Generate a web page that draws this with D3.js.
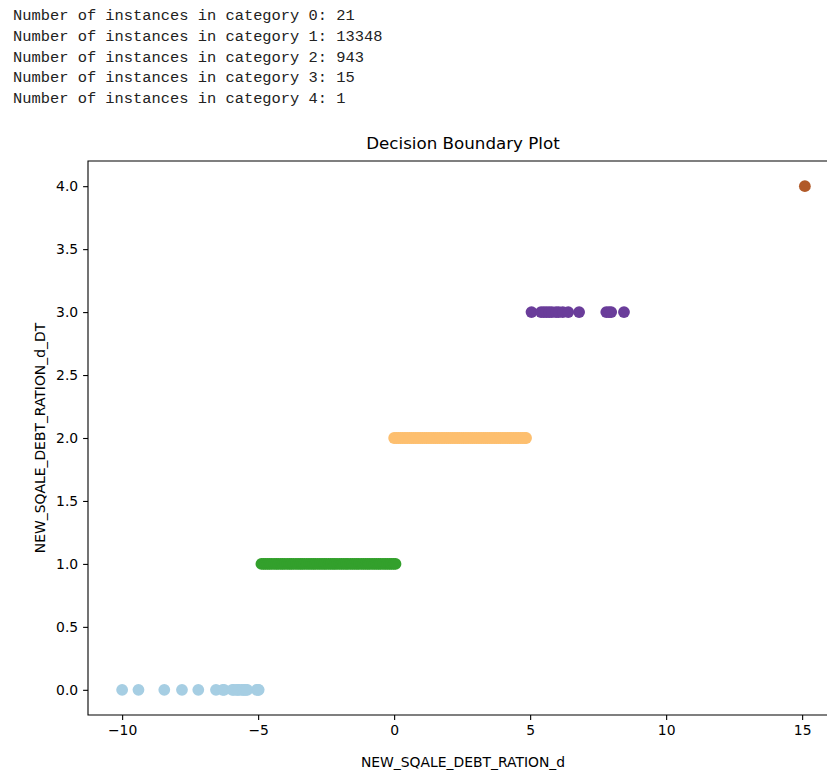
<!DOCTYPE html>
<html>
<head>
<meta charset="utf-8">
<script src="https://cdn.jsdelivr.net/npm/d3@7"></script>
<style>
  body { margin: 0; background: #fff; }
  .log { font-family: "Liberation Mono", "DejaVu Sans Mono", monospace; font-size: 15.4px; fill: #222; }
  .axis text { font-family: "DejaVu Sans", sans-serif; font-size: 13.9px; fill: #000; }
  .axis path, .axis line { stroke: #000; stroke-width: 1.1; }
</style>
</head>
<body>
<div id="chart"></div>
<script>
// counts printed above the chart
const counts = [21, 13348, 943, 15, 1];

// x positions for each category (y = category index)
const cat0 = [-10.0, -9.4, -8.45, -7.8, -7.2, -6.55, -6.3, -6.25, -5.95, -5.9, -5.8,
  -5.75, -5.7, -5.6, -5.55, -5.5, -5.45, -5.4, -5.05, -5.0, -4.98];
const cat1 = [-4.88, -4.8, -4.73, -4.65, -4.58, -4.5, -4.41, -4.33, -4.26, -4.17, -4.1,
  -4.02, -3.93, -3.85, -3.78, -3.7, -3.61, -3.53, -3.45, -3.38, -3.3, -3.21, -3.13,
  -3.05, -2.97, -2.9, -2.81, -2.73, -2.65, -2.57, -2.5, -2.41, -2.33, -2.25, -2.18,
  -2.1, -2.01, -1.93, -1.85, -1.77, -1.7, -1.61, -1.53, -1.45, -1.37, -1.3, -1.21,
  -1.13, -1.05, -0.97, -0.9, -0.81, -0.73, -0.65, -0.57, -0.5, -0.41, -0.33, -0.25,
  -0.17, -0.1, -0.02, 0.05];
const cat2 = [0.0, 0.08, 0.16, 0.24, 0.32, 0.4, 0.48, 0.56, 0.64, 0.72, 0.8, 0.88,
  0.96, 1.04, 1.12, 1.2, 1.28, 1.36, 1.44, 1.52, 1.6, 1.68, 1.76, 1.84, 1.92, 2.0,
  2.08, 2.16, 2.24, 2.32, 2.4, 2.48, 2.56, 2.64, 2.72, 2.8, 2.88, 2.96, 3.04, 3.12,
  3.2, 3.28, 3.36, 3.44, 3.52, 3.6, 3.68, 3.76, 3.84, 3.92, 4.0, 4.08, 4.16, 4.24,
  4.32, 4.4, 4.48, 4.56, 4.64, 4.72, 4.8, 4.85];
const cat3 = [5.05, 5.4, 5.5, 5.6, 5.7, 5.8, 5.95, 6.05, 6.2, 6.4, 6.8, 7.8, 7.9, 7.98, 8.45];
const cat4 = [15.1];

const cats = [cat0, cat1, cat2, cat3, cat4];
const colors = ["#a6cee3", "#33a02c", "#fdbf6f", "#6a3d9a", "#b15928"];
const xTicks = [-10, -5, 0, 5, 10, 15];
const yTicks = [0, 0.5, 1, 1.5, 2, 2.5, 3, 3.5, 4];

const W = 827, H = 774;
const svg = d3.select("#chart").append("svg")
  .attr("width", W).attr("height", H);

// printed output lines
svg.selectAll(".log")
  .data(counts).enter()
  .append("text")
    .attr("class", "log")
    .attr("x", 13)
    .attr("y", function (d, i) { return 20 + i * 20.8; })
    .text(function (d, i) { return "Number of instances in category " + i + ": " + d; });

const x = d3.scaleLinear().domain([-11.255, 16.355]).range([88, 839]);
const y = d3.scaleLinear().domain([-0.2, 4.2]).range([715, 161]);

const points = [];
cats.forEach(function (arr, c) {
  arr.forEach(function (v) { points.push({x: v, c: c}); });
});

svg.append("g").selectAll("circle")
  .data(points).enter()
  .append("circle")
    .attr("cx", function (d) { return x(d.x); })
    .attr("cy", function (d) { return y(d.c); })
    .attr("r", 5.9)
    .attr("fill", function (d) { return colors[d.c]; });

// spines
svg.append("path")
  .attr("d", "M" + x.range()[1] + "," + y.range()[1] + "H" + x.range()[0] + "V" + y.range()[0] + "H" + x.range()[1])
  .attr("fill", "none").attr("stroke", "#000").attr("stroke-width", 1.1);

svg.append("g")
  .attr("class", "axis")
  .attr("transform", "translate(0," + y.range()[0] + ")")
  .call(d3.axisBottom(x).tickValues(xTicks).tickSize(4.9).tickPadding(4.9).tickFormat(d3.format("d")))
  .call(function (g) { g.select(".domain").remove(); });

svg.append("g")
  .attr("class", "axis")
  .attr("transform", "translate(" + x.range()[0] + ",0)")
  .call(d3.axisLeft(y).tickValues(yTicks).tickSize(4.9).tickPadding(4.9).tickFormat(d3.format(".1f")))
  .call(function (g) { g.select(".domain").remove(); });

svg.append("text")
  .attr("x", 463).attr("y", 149)
  .attr("text-anchor", "middle")
  .style("font", "16.7px 'DejaVu Sans', sans-serif")
  .text("Decision Boundary Plot");

svg.append("text")
  .attr("x", 463).attr("y", 767)
  .attr("text-anchor", "middle")
  .style("font", "13.9px 'DejaVu Sans', sans-serif")
  .text("NEW_SQALE_DEBT_RATION_d");

svg.append("text")
  .attr("transform", "translate(40,438) rotate(-90)")
  .attr("text-anchor", "middle")
  .attr("dy", "0.35em")
  .style("font", "13.9px 'DejaVu Sans', sans-serif")
  .text("NEW_SQALE_DEBT_RATION_d_DT");
</script>
</body>
</html>
